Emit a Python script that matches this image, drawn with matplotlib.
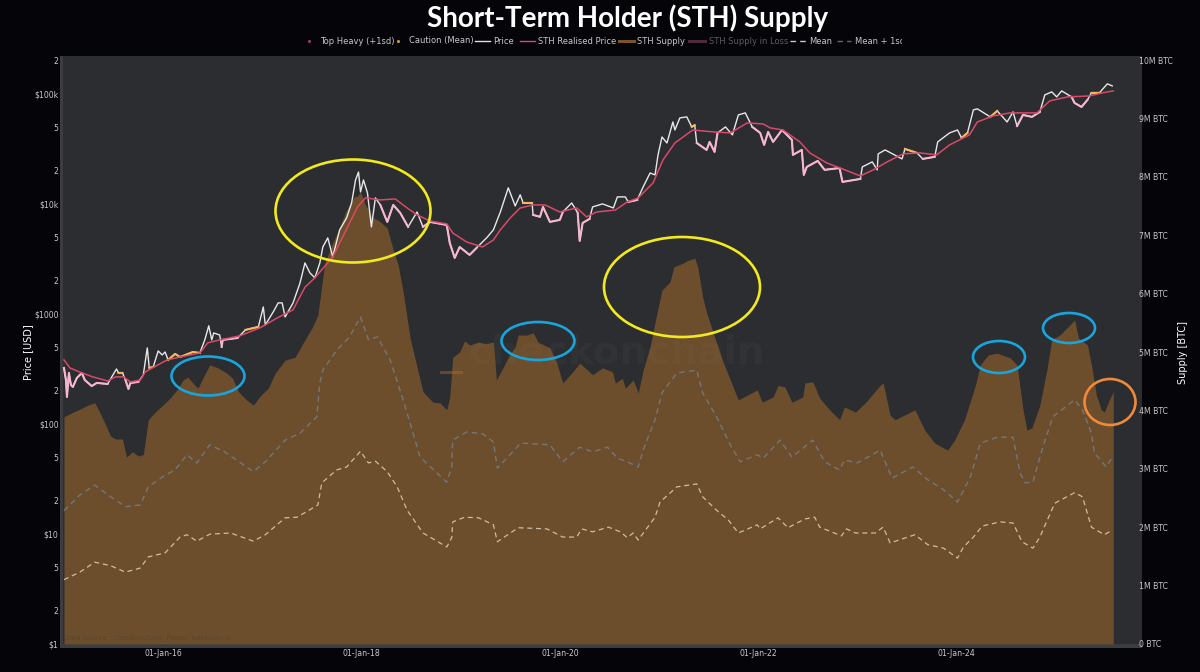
import numpy as np
import matplotlib
matplotlib.use("Agg")
import matplotlib.pyplot as plt
from matplotlib.patches import Ellipse, Rectangle
from matplotlib.lines import Line2D
from matplotlib.transforms import Bbox, TransformedBbox

# ---------- data ----------
SUPPLY_YEARS = [2015.00,2015.08,2015.16,2015.24,2015.31,2015.36,2015.42,2015.47,2015.52,2015.59,
 2015.63,2015.69,2015.75,2015.80,2015.85,2015.92,2015.99,2016.07,2016.14,2016.20,
 2016.25,2016.30,2016.35,2016.40,2016.47,2016.55,2016.64,2016.70,2016.76,2016.84,
 2016.91,2016.98,2017.06,2017.13,2017.23,2017.33,2017.43,2017.50,2017.56,2017.58,
 2017.63,2017.70,2017.78,2017.84,2017.88,2017.92,2017.96,2017.99,2018.04,2018.11,
 2018.19,2018.26,2018.32,2018.37,2018.42,2018.49,2018.56,2018.62,2018.72,2018.79,
 2018.86,2018.89,2018.92,2018.99,2019.04,2019.09,2019.18,2019.25,2019.33,2019.36,
 2019.43,2019.48,2019.55,2019.58,2019.67,2019.73,2019.78,2019.90,2019.97,2020.03,
 2020.13,2020.20,2020.30,2020.33,2020.43,2020.53,2020.56,2020.63,2020.66,2020.74,
 2020.79,2020.84,2020.91,2020.98,2021.03,2021.11,2021.15,2021.24,2021.28,2021.36,
 2021.39,2021.44,2021.48,2021.56,2021.64,2021.73,2021.80,2021.89,2021.99,2022.04,
 2022.15,2022.20,2022.27,2022.34,2022.45,2022.47,2022.55,2022.62,2022.72,2022.82,
 2022.87,2022.98,2023.08,2023.23,2023.26,2023.33,2023.38,2023.58,2023.68,2023.78,
 2023.91,2023.98,2024.08,2024.19,2024.24,2024.32,2024.41,2024.54,2024.61,2024.67,
 2024.71,2024.76,2024.84,2024.91,2024.96,2025.04,2025.14,2025.19,2025.23,2025.32,
 2025.36,2025.41,2025.46,2025.49,2025.54,2025.58]
SUPPLY_M = [3.89,3.96,4.02,4.09,4.13,3.97,3.75,3.56,3.51,3.51,
 3.20,3.29,3.22,3.24,3.84,3.97,4.08,4.21,4.35,4.52,
 4.57,4.47,4.38,4.55,4.78,4.73,4.64,4.55,4.32,4.18,
 4.09,4.25,4.38,4.64,4.86,4.91,5.21,5.41,5.63,5.89,
 6.52,6.83,7.14,7.40,7.52,7.65,7.67,7.74,7.52,7.31,
 7.23,7.12,6.75,6.49,6.03,5.24,4.74,4.32,4.14,4.13,
 4.01,4.23,4.91,5.00,5.19,5.12,5.17,5.14,5.17,4.52,
 4.74,4.91,5.09,5.29,5.29,5.33,5.17,5.07,4.81,4.47,
 4.66,4.81,4.66,4.61,4.73,4.66,4.47,4.55,4.38,4.52,
 4.30,4.69,5.09,5.67,6.06,6.20,6.46,6.52,6.56,6.61,
 6.46,5.94,5.67,5.26,4.86,4.47,4.18,4.26,4.35,4.14,
 4.23,4.43,4.40,4.14,4.23,4.47,4.49,4.21,4.01,3.84,
 4.06,3.97,4.13,4.43,4.47,3.92,3.84,4.01,3.66,3.44,
 3.32,3.49,3.84,4.43,4.78,4.95,4.98,4.90,4.78,4.01,
 3.66,3.70,4.09,4.69,5.21,5.29,5.46,5.55,5.24,5.12,
 4.78,4.26,4.01,3.97,4.18,4.32]

MEAN_SD_YEARS = [2015.00,2015.16,2015.31,2015.47,2015.62,2015.77,2015.85,2016.02,2016.12,2016.24,
 2016.34,2016.47,2016.62,2016.91,2017.03,2017.23,2017.38,2017.55,2017.58,2017.61,
 2017.75,2017.88,2017.99,2018.07,2018.16,2018.29,2018.42,2018.52,2018.59,2018.86,
 2018.91,2018.92,2019.06,2019.22,2019.33,2019.37,2019.57,2019.60,2019.90,2020.03,
 2020.20,2020.33,2020.48,2020.58,2020.68,2020.79,2020.84,2020.96,2021.03,2021.18,
 2021.38,2021.44,2021.58,2021.73,2021.82,2021.99,2022.05,2022.22,2022.34,2022.55,
 2022.67,2022.82,2022.87,2023.00,2023.23,2023.35,2023.56,2023.71,2023.87,2024.01,
 2024.14,2024.24,2024.41,2024.57,2024.64,2024.69,2024.77,2024.87,2024.97,2025.19,
 2025.27,2025.36,2025.39,2025.51,2025.57]
MEAN_SD_M = [2.28,2.55,2.72,2.52,2.35,2.38,2.69,2.89,2.98,3.24,
 3.10,3.41,3.29,2.95,3.12,3.49,3.61,3.89,4.47,4.69,
 5.03,5.26,5.60,5.21,5.26,4.86,4.18,3.61,3.20,2.77,
 3.03,3.49,3.63,3.60,3.46,3.01,3.37,3.44,3.41,3.12,
 3.37,3.29,3.37,3.18,3.12,3.03,3.32,3.84,4.30,4.64,
 4.69,4.30,3.89,3.37,3.12,3.24,3.18,3.49,3.20,3.49,
 3.12,2.98,3.15,3.10,3.32,2.84,3.03,2.81,2.64,2.43,
 2.86,3.44,3.54,3.54,2.93,2.76,2.77,3.37,3.89,4.18,
 4.01,3.61,3.27,3.03,3.20]

MEAN_YEARS = [2015.00,2015.16,2015.31,2015.47,2015.62,2015.77,2015.85,2016.02,2016.17,2016.24,
 2016.34,2016.47,2016.68,2016.91,2017.03,2017.23,2017.35,2017.56,2017.60,2017.75,
 2017.85,2017.99,2018.07,2018.14,2018.26,2018.36,2018.46,2018.62,2018.86,2018.91,
 2018.92,2019.04,2019.18,2019.33,2019.37,2019.58,2019.87,2020.03,2020.17,2020.22,
 2020.33,2020.49,2020.61,2020.68,2020.74,2020.79,2020.96,2021.01,2021.18,2021.38,
 2021.44,2021.58,2021.70,2021.80,2021.99,2022.02,2022.20,2022.30,2022.47,2022.57,
 2022.62,2022.84,2022.89,2022.98,2023.18,2023.26,2023.33,2023.58,2023.71,2023.87,
 2024.01,2024.07,2024.17,2024.26,2024.44,2024.57,2024.66,2024.77,2024.84,2024.99,
 2025.19,2025.27,2025.36,2025.49,2025.57]
MEAN_M = [1.10,1.23,1.40,1.34,1.23,1.30,1.49,1.56,1.83,1.87,
 1.76,1.88,1.90,1.76,1.87,2.16,2.17,2.38,2.76,2.98,
 3.03,3.30,3.10,3.13,2.95,2.69,2.29,1.90,1.66,1.82,
 2.09,2.17,2.16,2.04,1.75,1.99,1.97,1.83,1.83,1.97,
 1.92,2.00,1.92,1.82,1.90,1.78,2.17,2.43,2.69,2.74,
 2.52,2.29,2.12,1.90,2.04,1.97,2.16,1.99,2.14,2.17,
 2.00,1.85,1.97,1.90,1.90,2.00,1.73,1.87,1.70,1.64,
 1.47,1.66,1.83,2.02,2.09,2.07,1.75,1.64,1.83,2.41,
 2.59,2.52,2.00,1.87,1.95]

PRICE_YEARS = [2015.00,2015.02,2015.03,2015.05,2015.07,2015.09,2015.13,2015.18,2015.21,2015.28,
 2015.33,2015.44,2015.47,2015.53,2015.55,2015.59,2015.62,2015.65,2015.67,2015.75,
 2015.80,2015.84,2015.86,2015.90,2015.95,2015.99,2016.02,2016.05,2016.12,2016.17,
 2016.30,2016.37,2016.42,2016.46,2016.49,2016.51,2016.57,2016.59,2016.60,2016.75,
 2016.83,2016.96,2017.01,2017.03,2017.11,2017.16,2017.20,2017.23,2017.31,2017.38,
 2017.43,2017.48,2017.53,2017.58,2017.61,2017.66,2017.71,2017.78,2017.85,2017.90,
 2017.94,2017.97,2017.99,2018.02,2018.06,2018.10,2018.14,2018.19,2018.26,2018.32,
 2018.39,2018.47,2018.56,2018.62,2018.69,2018.86,2018.89,2018.94,2018.99,2019.09,
 2019.16,2019.27,2019.33,2019.40,2019.48,2019.55,2019.60,2019.63,2019.72,2019.73,
 2019.80,2019.83,2019.90,2020.00,2020.03,2020.12,2020.18,2020.20,2020.23,2020.30,
 2020.33,2020.43,2020.54,2020.58,2020.66,2020.69,2020.78,2020.84,2020.91,2020.96,
 2020.99,2021.03,2021.08,2021.14,2021.16,2021.21,2021.28,2021.33,2021.36,2021.38,
 2021.48,2021.51,2021.56,2021.59,2021.67,2021.74,2021.80,2021.87,2021.94,2022.02,
 2022.06,2022.10,2022.15,2022.24,2022.34,2022.35,2022.44,2022.46,2022.49,2022.60,
 2022.67,2022.82,2022.85,2023.03,2023.05,2023.15,2023.20,2023.21,2023.28,2023.45,
 2023.48,2023.60,2023.66,2023.78,2023.81,2023.93,2024.01,2024.05,2024.11,2024.17,
 2024.21,2024.34,2024.41,2024.51,2024.57,2024.61,2024.67,2024.76,2024.84,2024.89,
 2024.96,2025.01,2025.06,2025.16,2025.19,2025.26,2025.32,2025.36,2025.44,2025.52,
 2025.57]
PRICE_USD = [323,251,176,291,226,217,262,291,251,221,
 236,231,257,316,291,291,251,208,236,241,
 279,491,323,330,461,424,451,382,433,406,
 451,442,581,780,581,672,644,501,581,605,
 716,763,1158,795,1043,1260,1260,939,1260,1910,
 2910,2360,2130,2910,4060,4910,3300,5810,7460,10200,
 16500,19500,12850,16500,12600,6180,11340,9790,6860,9790,
 8300,6180,8450,6180,6860,6440,4420,3230,4060,3440,
 3980,5010,5810,8450,14000,9580,12100,10200,10200,7950,
 7630,9390,6860,7160,8450,10200,8300,4610,6720,7310,
 9390,10000,9190,11580,11580,10430,10870,14270,19100,18350,
 27900,40600,35800,55600,47000,60500,61800,50100,52000,35800,
 30950,36600,29700,44200,50100,42400,64400,67200,50100,44200,
 34400,45100,36600,47000,38200,27900,30950,18350,21700,24600,
 20400,21200,15850,16870,21700,24100,20400,28500,30950,25650,
 31600,29100,25650,26800,36600,44200,47000,39800,44200,71600,
 73100,61800,70000,55600,68600,51000,64400,61800,68600,97900,
 104300,93900,106500,93900,82800,76100,88200,102100,102100,123300,
 118200]

REALISED_YEARS = [2015.00,2015.06,2015.16,2015.29,2015.44,2015.52,2015.60,2015.67,2015.77,2015.82,
 2015.89,2016.04,2016.17,2016.37,2016.45,2016.57,2016.77,2016.98,2017.15,2017.31,
 2017.43,2017.53,2017.71,2017.88,2017.96,2018.04,2018.19,2018.34,2018.46,2018.56,
 2018.69,2018.86,2018.92,2019.06,2019.22,2019.33,2019.40,2019.50,2019.60,2019.73,
 2019.85,2020.00,2020.17,2020.27,2020.37,2020.56,2020.68,2020.79,2020.94,2021.04,
 2021.16,2021.34,2021.55,2021.72,2021.89,2022.05,2022.12,2022.25,2022.42,2022.52,
 2022.69,2022.85,2023.03,2023.16,2023.30,2023.46,2023.63,2023.80,2023.93,2024.13,
 2024.21,2024.37,2024.54,2024.81,2024.94,2025.12,2025.34,2025.47,2025.58]
REALISED_USD = [382,323,296,268,246,268,268,241,251,297,
 323,382,406,442,546,581,631,750,920,1090,
 1750,2130,3300,6720,9390,11340,10870,11100,9190,7950,
 7000,6580,5450,4510,4060,4700,5810,7460,9190,9790,
 9790,8450,9190,7630,8450,8800,10430,11340,15520,25100,
 35800,47000,45100,44200,54500,53300,49100,47000,36600,29100,
 23600,20800,17960,20400,24100,28500,29100,27900,34400,42400,
 55600,63100,67200,67200,86400,93900,95800,102100,106500]

LEFT_TICKS = [1,2,5,10,20,50,100,200,500,1000,2000,5000,10000,20000,50000,100000,200000]
LEFT_LABELS = ['$1','2','5','$10','2','5','$100','2','5','$1000','2','5','$10k','2','5','$100k','2']
RIGHT_TICKS = [0,1,2,3,4,5,6,7,8,9,10]
RIGHT_LABELS = ['0 BTC'] + [f'{i}M BTC' for i in range(1,11)]
DATE_TICKS = [2016,2018,2020,2022,2024]
DATE_LABELS = ['01-Jan-16','01-Jan-18','01-Jan-20','01-Jan-22','01-Jan-24']

# ---------- figure ----------
W, H = 1200, 672
def fx(p): return p / W
def fy(p): return 1 - p / H

BG = '#040409'
PLOT = '#2b2d30'
BAND = '#3b3d40'
TXT = '#c9c9c9'

fig = plt.figure(figsize=(12, 6.72), dpi=100, facecolor=BG)
L, R, T, B = 60, 1142, 56, 648
ax2 = fig.add_axes([fx(L), fy(B), (R - L) / W, (B - T) / H], facecolor=PLOT)
ax = ax2.twinx()
ax2.set_zorder(1); ax.set_zorder(2)
ax.patch.set_visible(False)

XLIM = (2014.96, 2025.87)
for a in (ax, ax2):
    a.set_xlim(*XLIM)
    for s in a.spines.values():
        s.set_visible(False)

# supply (ax2) is on the right, price (ax) on the left
ax2.set_ylim(-0.07, 10.07)
ax.set_yscale('log')
ax.set_ylim(0.92, 221000)

ax2.axhspan(-0.07, 0, color=BAND, lw=0, zorder=0.5)
ax2.axvspan(XLIM[0], 2014.995, color=BAND, lw=0, zorder=0.5)

ax2.fill_between(SUPPLY_YEARS, 0, SUPPLY_M, color='#6c4e2c', lw=0, zorder=1)
ax2.plot(MEAN_SD_YEARS, MEAN_SD_M, color='#74777a', lw=1.0, dashes=(4, 3), zorder=2)
ax2.plot(MEAN_YEARS, MEAN_M, color='#cdbda4', lw=0.9, dashes=(4, 3), zorder=2)

# price: colour by position against the realised price
py = np.array(PRICE_YEARS)
pv = np.array(PRICE_USD, dtype=float)
rp = np.interp(py, REALISED_YEARS, REALISED_USD)
ratio = pv / rp
ax.plot(py, pv, color='#e8e8e8', lw=1.0, zorder=3)
below = np.ma.masked_where(ratio > 1.0, pv)
near = np.ma.masked_where((ratio <= 0.98) | (ratio > 1.12), pv)
ax.plot(py, below, color='#f7b6cf', lw=1.5, zorder=4)
ax.plot(py, near, color='#f5b95f', lw=1.5, zorder=4)
ax.plot(REALISED_YEARS, REALISED_USD, color='#d94a68', lw=1.1, zorder=5)

# ticks
ax.yaxis.set_ticks_position('left')
ax.set_yticks(LEFT_TICKS, LEFT_LABELS)
ax.minorticks_off()
ax.tick_params(axis='y', which='both', length=0, pad=1, labelsize=5.6, colors=TXT)
ax2.yaxis.set_ticks_position('right')
ax2.set_yticks(RIGHT_TICKS, RIGHT_LABELS)
ax2.tick_params(axis='y', length=0, pad=-2, labelsize=5.6, colors=TXT)
ax2.set_xticks(DATE_TICKS, DATE_LABELS)
ax2.tick_params(axis='x', length=0, pad=0.5, labelsize=5.6, colors=TXT)
ax.tick_params(axis='x', length=0, labelbottom=False)

fig.text(fx(28), fy(352), 'Price [USD]', rotation=90, color='white', fontsize=7, ha='center', va='center')
fig.text(fx(1183), fy(352), 'Supply [BTC]', rotation=90, color='white', fontsize=7, ha='center', va='center')

# watermark
ax2.text(2020.57, 5.0, 'checkonchain', color='#8a8a8a', alpha=0.055, fontsize=28, fontweight='bold',
         ha='center', va='center', zorder=2.5, family='DejaVu Sans')
fig.add_artist(Rectangle((fx(440), fy(374)), 23 / W, 3 / H, transform=fig.transFigure, color='#a96f2e', alpha=0.45, lw=0, zorder=10))
fig.text(fx(64), fy(638), 'Data Source : checkonchain, Pewen Adkisson.io', color='#4a4030', alpha=0.55, fontsize=5, ha='left', va='center', zorder=10)

# title
fig.text(fx(628), fy(18), 'Short-Term Holder (STH) Supply', color='white', fontsize=20, fontweight='bold',
         family='Lato', ha='center', va='center')

# legend
LEG_Y = 41
def legtext(x, s, c='#c9c9c9'):
    return fig.text(fx(x), fy(LEG_Y), s, color=c, fontsize=6, ha='left', va='center', zorder=11)
def legline(x0, x1, c, lw=1.0, **kw):
    fig.add_artist(Line2D([fx(x0), fx(x1)], [fy(LEG_Y), fy(LEG_Y)], color=c, lw=lw, transform=fig.transFigure, zorder=11, **kw))

fig.add_artist(Line2D([fx(309)], [fy(LEG_Y)], marker='o', ms=1.2, color='#a03a60', lw=0, transform=fig.transFigure, zorder=11))
legtext(320, 'Top Heavy (+1sd)')
fig.add_artist(Line2D([fx(398)], [fy(LEG_Y)], marker='o', ms=1.2, color='#c99a50', lw=0, transform=fig.transFigure, zorder=11))
legtext(409, 'Caution (Mean)')
legline(475, 490, '#e0e0e0')
legtext(493, 'Price')
legline(520, 535, '#d94a68')
legtext(538, 'STH Realised Price')
legline(619, 634, '#7a5529', lw=2.2)
legtext(637, 'STH Supply')
legline(689, 705, '#4d2a3c', lw=2.2)
legtext(709, 'STH Supply in Loss', '#5c5c60')
legline(790, 806, '#c9c9c9', dashes=(4, 3))
legtext(809, 'Mean')
legline(837, 851, '#5a6a80', dashes=(4, 3))
clip = legtext(855, 'Mean + 1sd')
clip.set_clip_box(TransformedBbox(Bbox([[fx(850), fy(50)], [fx(902), fy(32)]]), fig.transFigure))
clip.set_clip_on(True)

# annotation rings
RINGS = [
    (353, 211, 155, 103, '#f2ea1d'),
    (682, 287, 156, 100, '#f2ea1d'),
    (208, 376, 73, 39, '#19a5dc'),
    (538, 341, 73, 38, '#19a5dc'),
    (999, 357, 52, 32, '#19a5dc'),
    (1069, 328, 52, 30, '#19a5dc'),
    (1110, 402, 51, 46, '#ee8a3a'),
]
for cx, cy, w, h, c in RINGS:
    fig.add_artist(Ellipse((fx(cx), fy(cy)), w / W, h / H, transform=fig.transFigure, fill=False, ec=c, lw=1.9, zorder=12))

fig.savefig('out.png', dpi=100, facecolor=BG)
